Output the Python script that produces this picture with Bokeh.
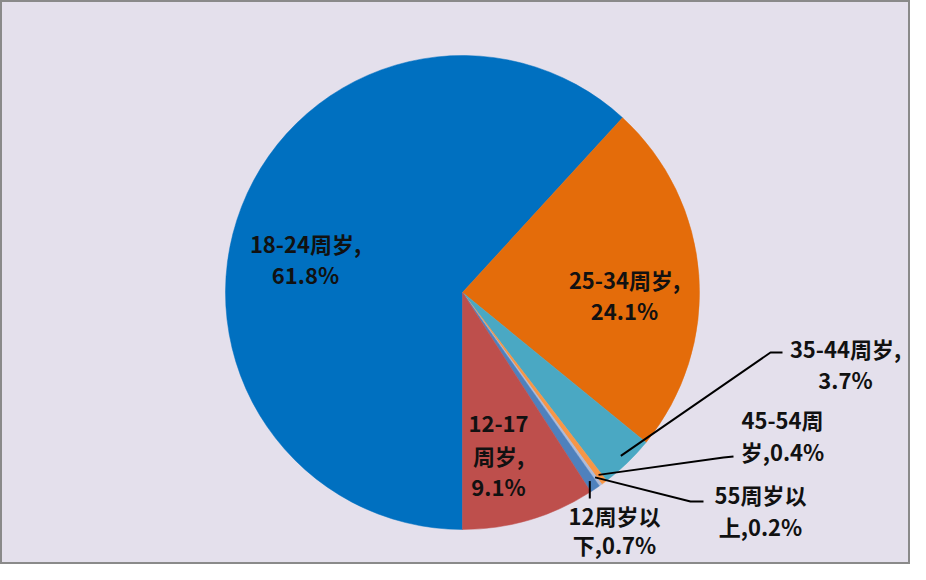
import numpy as np
from bokeh.plotting import figure
from bokeh.models import Range1d, ColumnDataSource
from bokeh.core.properties import value
from bokeh.embed import file_html
from bokeh.resources import INLINE

# ---- data ----
categories = ["18-24周岁", "25-34周岁", "35-44周岁", "45-54周岁", "55周岁以上", "12周岁以下", "12-17周岁"]
shares = [61.8, 24.1, 3.7, 0.4, 0.2, 0.7, 9.1]
colors = ["#0070C0", "#E46C0A", "#4AA8C3", "#F79646", "#AEBBD8", "#4F81BD", "#BE4F4C"]

# ---- layout (screen pixel coords) ----
W, H = 910, 564
def dx(sx): return sx
def dy(sy): return H - sy

CX, CY, R = dx(462), dy(292), 237
BG = "#E4E0EC"
FONT = "Noto Sans CJK SC"
FS = "22px"

# label line breaks, anchor (screen center of first line), line spacing
breaks = [[8], [8], [8], [6], [5], [5], [5, 8]]
anchors = [(305, 242), (624, 278), (845, 347), (782, 418), (760, 493), (614, 514), (498, 423)]
spacing = [31, 31, 31, 32, 32, 29, 31]
# leader lines: None = no leader, else list of screen points after the start
leaders = [None, None, [(770, 352), (782, 352)], [(723, 457), (733, 456)],
           [(690, 501), (703, 501)], "vertical", None]

p = figure(width=W, height=H, x_range=Range1d(0, W), y_range=Range1d(0, H),
           output_backend="svg", toolbar_location=None,
           x_axis_location=None, y_axis_location=None, min_border=0)
p.grid.visible = False
p.background_fill_color = BG
p.border_fill_color = BG
p.outline_line_color = "#8A8A8A"
p.outline_line_width = 3

# angles: start at 6 o'clock, clockwise
vals = np.array(shares, dtype=float)
frac = vals / vals.sum()
cum = np.concatenate([[0.0], np.cumsum(frac)])
theta0 = np.pi + cum[:-1] * 2 * np.pi   # clockwise from top
theta1 = np.pi + cum[1:] * 2 * np.pi
start = np.pi / 2 - theta0
end = np.pi / 2 - theta1

src = ColumnDataSource(dict(x=[CX] * len(vals), y=[CY] * len(vals),
                            start=start, end=end, color=colors))
p.wedge(x="x", y="y", radius=R, start_angle="start", end_angle="end",
        direction="clock", fill_color="color", line_color="color",
        line_width=0.5, source=src)

# labels
tx, ty, tt = [], [], []
for cat, v, br, (ax, ay), sp in zip(categories, shares, breaks, anchors, spacing):
    full = f"{cat},{v:.1f}%"
    idx = [0] + br + [len(full)]
    for k in range(len(idx) - 1):
        tt.append(full[idx[k]:idx[k + 1]])
        tx.append(dx(ax))
        ty.append(dy(ay + k * sp))
p.text(x=tx, y=ty, text=tt, text_font=value(FONT), text_font_size=FS,
       text_font_style="bold", text_color="#111111",
       text_align="center", text_baseline="middle")

# leader lines
for i, ld in enumerate(leaders):
    if ld is None:
        continue
    mid = (theta0[i] + theta1[i]) / 2
    r0 = R * 0.96
    sx0 = CX + r0 * np.sin(mid)
    sy0 = CY + r0 * np.cos(mid)
    if ld == "vertical":
        xs = [sx0, sx0]
        ys = [sy0, dy(498)]
    else:
        xs = [sx0] + [dx(a) for a, b in ld]
        ys = [sy0] + [dy(b) for a, b in ld]
    p.line(xs, ys, line_color="#000000", line_width=2)

open("out.html", "w").write(file_html(p, INLINE))
